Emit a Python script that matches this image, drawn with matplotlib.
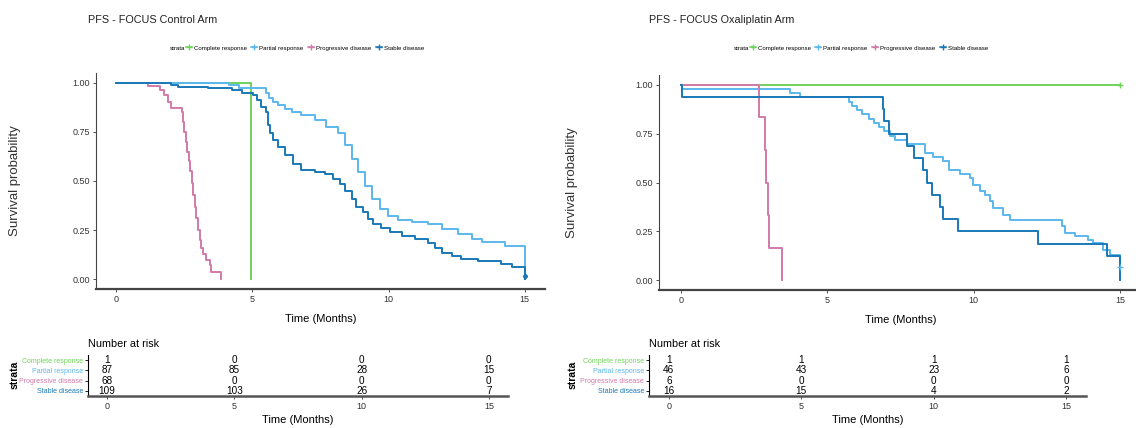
import matplotlib
matplotlib.use("Agg")
import matplotlib.pyplot as plt
from matplotlib.lines import Line2D

plt.rcParams['font.family'] = ['Liberation Sans', 'DejaVu Sans']

# strata
strata = ['Complete response', 'Partial response', 'Progressive disease', 'Stable disease']
colors = ['#6fd35a', '#5cb8ec', '#d27aaa', '#1a78b8']
risk_times = [0, 5, 10, 15]

# ---- control arm ----
cr_t_ctl = [0, 4.95]
cr_s_ctl = [1.0, 0.0]
pr_t_ctl = [0, 4.15, 4.5, 5.5, 5.6, 5.75, 5.95, 6.2, 6.45, 6.8, 7.28, 7.72, 8.15, 8.4, 8.64,
            8.89, 9.13, 9.38, 9.68, 9.99, 10.36, 10.85, 11.46, 11.95, 12.56, 13.05, 13.42,
            14.28, 15.0]
pr_s_ctl = [1.0, 0.99, 0.976, 0.95, 0.925, 0.90, 0.885, 0.865, 0.85, 0.836, 0.81, 0.776,
            0.742, 0.682, 0.614, 0.545, 0.477, 0.409, 0.357, 0.323, 0.303, 0.289, 0.28,
            0.255, 0.229, 0.203, 0.191, 0.169, 0.0]
pd_t_ctl = [0, 1.15, 1.6, 1.75, 1.9, 2.0, 2.4, 2.45, 2.5, 2.55, 2.6, 2.65, 2.7, 2.76, 2.82,
            2.88, 2.94, 3.0, 3.06, 3.12, 3.2, 3.3, 3.43, 3.47, 3.85]
pd_s_ctl = [1.0, 0.985, 0.965, 0.94, 0.90, 0.87, 0.85, 0.80, 0.75, 0.70, 0.65, 0.60, 0.55,
            0.49, 0.43, 0.37, 0.31, 0.25, 0.20, 0.16, 0.13, 0.10, 0.07, 0.035, 0.0]
sd_t_ctl = [0, 2.02, 2.27, 3.37, 4.23, 4.6, 5.02, 5.15, 5.33, 5.5, 5.58, 5.64, 5.76, 5.94,
            6.19, 6.5, 6.8, 7.29, 7.66, 7.97, 8.21, 8.4, 8.64, 8.82, 9.07, 9.25, 9.44, 9.74,
            10.05, 10.48, 10.97, 11.46, 11.7, 11.95, 12.32, 12.68, 13.3, 14.15, 14.52, 15.0]
sd_s_ctl = [1.0, 0.99, 0.981, 0.973, 0.964, 0.947, 0.938, 0.913, 0.879, 0.853, 0.785, 0.742,
            0.708, 0.673, 0.631, 0.588, 0.554, 0.545, 0.537, 0.511, 0.486, 0.451, 0.409,
            0.366, 0.34, 0.306, 0.28, 0.263, 0.241, 0.221, 0.203, 0.186, 0.161, 0.135,
            0.118, 0.104, 0.092, 0.075, 0.063, 0.0]
risk_ctl = [[1, 0, 0, 0], [87, 85, 28, 15], [68, 0, 0, 0], [109, 103, 26, 7]]

# ---- oxaliplatin arm ----
cr_t_oxa = [0, 15.0]
cr_s_oxa = [1.0, 1.0]
pr_t_oxa = [0, 0.02, 3.71, 4.05, 5.75, 5.84, 6.01, 6.18, 6.41, 6.58, 6.75, 6.92, 7.14, 7.32,
            7.71, 8.34, 8.62, 8.96, 9.14, 9.53, 9.87, 9.99, 10.22, 10.39, 10.56, 10.67,
            11.01, 11.24, 13.0, 13.12, 13.46, 13.91, 14.08, 14.43, 14.65, 15.0]
pr_s_oxa = [1.0, 0.978, 0.957, 0.935, 0.913, 0.891, 0.87, 0.848, 0.826, 0.804, 0.783, 0.761,
            0.739, 0.717, 0.696, 0.652, 0.63, 0.609, 0.565, 0.543, 0.522, 0.489, 0.457,
            0.435, 0.404, 0.37, 0.336, 0.307, 0.276, 0.242, 0.225, 0.208, 0.19, 0.157,
            0.131, 0.066]
pd_t_oxa = [0, 2.65, 2.88, 2.92, 2.96, 3.0, 3.45]
pd_s_oxa = [1.0, 0.833, 0.667, 0.5, 0.333, 0.167, 0.0]
sd_t_oxa = [0, 0.02, 6.89, 6.92, 7.12, 7.71, 7.96, 8.28, 8.4, 8.57, 8.85, 8.94, 9.47, 12.2,
            14.54, 15.0]
sd_s_oxa = [1.0, 0.9375, 0.875, 0.8125, 0.75, 0.6875, 0.625, 0.5625, 0.5, 0.4375, 0.375,
            0.3125, 0.25, 0.1875, 0.125, 0.0]
risk_oxa = [[1, 1, 1, 1], [46, 43, 23, 6], [6, 0, 0, 0], [16, 15, 4, 2]]

W, H = 1136, 428


def box(l, r, t, b):
    # pixel box -> figure fraction rect
    return [l / W, 1 - b / H, (r - l) / W, (b - t) / H]


def km_panel(fig, rect, curves, title, title_x, legend_x, ylab_x):
    ax = fig.add_axes(rect)
    for (t, s), c in zip(curves, colors):
        ax.step(t, s, where='post', color=c, lw=1.4)
    ax.set_xlim(-0.75, 15.75)
    ax.set_ylim(-0.05, 1.05)
    ax.set_xticks([0, 5, 10, 15])
    ax.set_yticks([0, 0.25, 0.5, 0.75, 1.0])
    ax.set_yticklabels(['0.00', '0.25', '0.50', '0.75', '1.00'])
    for sp in ['top', 'right']:
        ax.spines[sp].set_visible(False)
    ax.spines['bottom'].set_linewidth(1.6)
    ax.spines['bottom'].set_color('#444444')
    ax.spines['left'].set_linewidth(0.8)
    ax.spines['left'].set_color('#444444')
    ax.tick_params(labelsize=6.5, length=2.5, width=0.6, colors='#333333', pad=2)
    ax.set_xlabel('Time (Months)', fontsize=8, labelpad=7)
    ax.set_ylabel('Survival probability', fontsize=9.5, color='#333333')
    l = rect[0] * W
    w = rect[2] * W
    ax.yaxis.set_label_coords((ylab_x - l) / w, 0.5)
    fig.text(title_x / W, 1 - 20 / H, title, fontsize=7.8, va='center', color='#222222')
    fig.text(legend_x / W, 1 - 48 / H, 'strata', fontsize=4.4, va='center')
    handles = [Line2D([], [], color=c, lw=1.1, marker='+', markersize=4) for c in colors]
    fig.legend(handles, strata, loc='center left', ncol=4, frameon=False, fontsize=4.4,
               handlelength=1.0, handletextpad=0.35, columnspacing=0.7,
               bbox_to_anchor=((legend_x + 10) / W, 1 - 48 / H))
    return ax


def risk_panel(fig, rect, risk, strata_x):
    ax = fig.add_axes(rect)
    for i, row in enumerate(risk):
        for tx, n in zip(risk_times, row):
            ax.text(tx, 4 - i, str(n), ha='center', va='center', fontsize=7.2)
    ax.set_xlim(-0.75, 15.75)
    ax.set_ylim(0.5, 4.5)
    ax.set_xticks(risk_times)
    ax.set_yticks([4, 3, 2, 1])
    ax.set_yticklabels(strata)
    for lab, c in zip(ax.get_yticklabels(), colors):
        lab.set_color(c)
    for sp in ['top', 'right']:
        ax.spines[sp].set_visible(False)
    ax.spines['bottom'].set_linewidth(1.8)
    ax.spines['bottom'].set_color('#555555')
    ax.spines['left'].set_linewidth(0.8)
    ax.tick_params(axis='y', labelsize=5.0, length=2.5, width=0.6, pad=1)
    ax.tick_params(axis='x', labelsize=6.5, length=2.5, width=0.6, colors='#333333', pad=2)
    ax.set_xlabel('Time (Months)', fontsize=8, labelpad=3)
    ax.set_title('Number at risk', fontsize=7.8, loc='left', pad=6)
    fig.text(strata_x / W, 1 - 375 / H, 'strata', rotation=90, fontsize=7.5,
             fontweight='bold', va='center', ha='center')
    return ax


fig = plt.figure(figsize=(W / 100, H / 100), dpi=100)

ctl_curves = [(cr_t_ctl, cr_s_ctl), (pr_t_ctl, pr_s_ctl), (pd_t_ctl, pd_s_ctl), (sd_t_ctl, sd_s_ctl)]
oxa_curves = [(cr_t_oxa, cr_s_oxa), (pr_t_oxa, pr_s_oxa), (pd_t_oxa, pd_s_oxa), (sd_t_oxa, sd_s_oxa)]

ax1 = km_panel(fig, box(96, 545, 73, 289), ctl_curves, 'PFS - FOCUS Control Arm', 88, 170, 21)
ax1.plot([15], [0.015], marker='o', ms=2.5, color=colors[3])
ax2 = km_panel(fig, box(659, 1142, 75, 290), oxa_curves, 'PFS - FOCUS Oxaliplatin Arm', 649, 734, 578)
ax2.plot([15], [1.0], marker='+', ms=5, color=colors[0])
ax2.plot([15], [0.066], marker='+', ms=5, color=colors[1])

risk_panel(fig, box(88, 508, 355, 396), risk_ctl, 15)
risk_panel(fig, box(649, 1086, 355, 396), risk_oxa, 573)

fig.savefig('out.png', dpi=100)
